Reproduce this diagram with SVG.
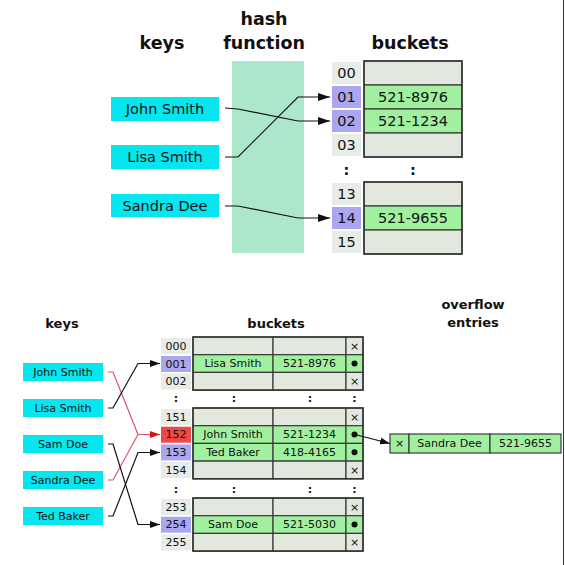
<svg xmlns="http://www.w3.org/2000/svg" width="565" height="565" viewBox="0 0 565 565">
<defs>
<style>
text{font-family:"DejaVu Sans","Liberation Sans",sans-serif;fill:#111;text-anchor:middle;dominant-baseline:central}
.title{font-weight:bold;dominant-baseline:auto}
.t1{font-size:17.5px}
.t2{font-size:13px}
.k1{font-size:14.5px}
.k2{font-size:11px}
.key{fill:#06e6ee}
.idx{fill:#e8ece6}
.hi{fill:#aaa6f0}
.red{fill:#ee4848}
.emp{fill:#e3e8df;stroke:#3a3a3a;stroke-width:1.2}
.ful{fill:#a0f0a0;stroke:#3a3a3a;stroke-width:1.2}
.frame{fill:none;stroke:#333;stroke-width:1.5}
.con{fill:none;stroke:#111;stroke-width:1.2}
.conr{fill:none;stroke:#e0506a;stroke-width:1.2}
.dot{fill:#111}
</style>
<marker id="ab" viewBox="0 0 12 8" refX="12" refY="4" markerWidth="12" markerHeight="8" markerUnits="userSpaceOnUse" orient="auto"><path d="M0,0 L12,4 L0,8 z" fill="#111"/></marker>
<marker id="as" viewBox="0 0 10 7" refX="10" refY="3.5" markerWidth="10" markerHeight="7" markerUnits="userSpaceOnUse" orient="auto"><path d="M0,0 L10,3.5 L0,7 z" fill="#111"/></marker>
<marker id="ar" viewBox="0 0 10 7" refX="10" refY="3.5" markerWidth="10" markerHeight="7" markerUnits="userSpaceOnUse" orient="auto"><path d="M0,0 L10,3.5 L0,7 z" fill="#d01818"/></marker>
</defs>
<rect width="565" height="565" fill="#fff"/>
<line x1="563.5" y1="0" x2="563.5" y2="565" stroke="#333" stroke-width="1"/>

<!-- TOP DIAGRAM -->
<g id="top-titles">
<text class="title t1" x="162" y="49">keys</text>
<text class="title t1" x="264" y="25">hash</text>
<text class="title t1" x="264" y="49">function</text>
<text class="title t1" x="410" y="49">buckets</text>
</g>
<g id="hash-function"><rect x="232" y="61" width="72" height="192" fill="#ace7cb"/></g>
<g id="top-key-john"><rect class="key" x="111" y="97" width="108" height="24"/><text class="k1" x="165" y="109">John Smith</text></g>
<g id="top-key-lisa"><rect class="key" x="111" y="145" width="108" height="24"/><text class="k1" x="165" y="157">Lisa Smith</text></g>
<g id="top-key-sandra"><rect class="key" x="111" y="194" width="108" height="23"/><text class="k1" x="165" y="206">Sandra Dee</text></g>

<g id="top-buckets">
<rect class="idx" x="332" y="62" width="29" height="22"/><text class="k1" x="346.5" y="73">00</text>
<rect class="hi" x="332" y="86" width="29" height="22"/><text class="k1" x="346.5" y="97">01</text>
<rect class="hi" x="332" y="110" width="29" height="22"/><text class="k1" x="346.5" y="121">02</text>
<rect class="idx" x="332" y="134" width="29" height="22"/><text class="k1" x="346.5" y="145">03</text>
<rect class="emp" x="364" y="61" width="98" height="24"/>
<rect class="ful" x="364" y="85" width="98" height="24"/><text class="k1" x="413" y="97">521-8976</text>
<rect class="ful" x="364" y="109" width="98" height="24"/><text class="k1" x="413" y="121">521-1234</text>
<rect class="emp" x="364" y="133" width="98" height="24"/>
<rect class="frame" x="364" y="61" width="98" height="96"/>
<text class="k1" x="346.5" y="170" font-weight="bold">:</text>
<text class="k1" x="413" y="170" font-weight="bold">:</text>
<rect class="idx" x="332" y="183" width="29" height="22"/><text class="k1" x="346.5" y="194">13</text>
<rect class="hi" x="332" y="207" width="29" height="22"/><text class="k1" x="346.5" y="218">14</text>
<rect class="idx" x="332" y="231" width="29" height="22"/><text class="k1" x="346.5" y="242">15</text>
<rect class="emp" x="364" y="182" width="98" height="24"/>
<rect class="ful" x="364" y="206" width="98" height="24"/><text class="k1" x="413" y="218">521-9655</text>
<rect class="emp" x="364" y="230" width="98" height="24"/>
<rect class="frame" x="364" y="182" width="98" height="72"/>
</g>

<!-- BOTTOM DIAGRAM -->
<g id="bottom-titles">
<text class="title t2" x="62" y="328">keys</text>
<text class="title t2" x="276" y="328">buckets</text>
<text class="title t2" x="473" y="309">overflow</text>
<text class="title t2" x="473" y="327">entries</text>
</g>
<g id="bk-john"><rect class="key" x="23" y="363" width="80" height="18"/><text class="k2" x="63" y="372">John Smith</text></g>
<g id="bk-lisa"><rect class="key" x="23" y="399" width="80" height="18"/><text class="k2" x="63" y="408">Lisa Smith</text></g>
<g id="bk-sam"><rect class="key" x="23" y="435" width="80" height="18"/><text class="k2" x="63" y="444">Sam Doe</text></g>
<g id="bk-sandra"><rect class="key" x="23" y="471" width="80" height="18"/><text class="k2" x="63" y="480">Sandra Dee</text></g>
<g id="bk-ted"><rect class="key" x="23" y="507" width="80" height="18"/><text class="k2" x="63" y="516">Ted Baker</text></g>

<g id="bottom-buckets-1">
<rect class="idx" x="161" y="338" width="30" height="16"/><text class="k2" x="176" y="346">000</text>
<rect class="hi" x="161" y="356" width="30" height="16"/><text class="k2" x="176" y="364">001</text>
<rect class="idx" x="161" y="373.5" width="30" height="16"/><text class="k2" x="176" y="381.5">002</text>
<rect class="emp" x="193" y="337" width="80" height="17.7"/><rect class="emp" x="273" y="337" width="73" height="17.7"/><rect class="emp" x="346" y="337" width="17" height="17.7"/><text class="k2" x="354.5" y="346">×</text>
<rect class="ful" x="193" y="354.7" width="80" height="17.7"/><rect class="ful" x="273" y="354.7" width="73" height="17.7"/><rect class="ful" x="346" y="354.7" width="17" height="17.7"/>
<text class="k2" x="233" y="363.5">Lisa Smith</text><text class="k2" x="309.5" y="363.5">521-8976</text><circle class="dot" cx="354.5" cy="363.5" r="3"/>
<rect class="emp" x="193" y="372.4" width="80" height="17.7"/><rect class="emp" x="273" y="372.4" width="73" height="17.7"/><rect class="emp" x="346" y="372.4" width="17" height="17.7"/><text class="k2" x="354.5" y="381.2">×</text>
<rect class="frame" x="193" y="337" width="170" height="53.1"/>
</g>
<g id="bottom-dots-1">
<text class="k2" x="176" y="398" font-weight="bold">:</text><text class="k2" x="234" y="398" font-weight="bold">:</text><text class="k2" x="310" y="398" font-weight="bold">:</text><text class="k2" x="354.5" y="398" font-weight="bold">:</text>
</g>
<g id="bottom-buckets-2">
<rect class="idx" x="161" y="409" width="30" height="16"/><text class="k2" x="176" y="417">151</text>
<rect class="red" x="161" y="426.7" width="30" height="16"/><text class="k2" x="176" y="434.7">152</text>
<rect class="hi" x="161" y="444.4" width="30" height="16"/><text class="k2" x="176" y="452.4">153</text>
<rect class="idx" x="161" y="462.1" width="30" height="16"/><text class="k2" x="176" y="470.1">154</text>
<rect class="emp" x="193" y="408" width="80" height="17.7"/><rect class="emp" x="273" y="408" width="73" height="17.7"/><rect class="emp" x="346" y="408" width="17" height="17.7"/><text class="k2" x="354.5" y="417">×</text>
<rect class="ful" x="193" y="425.7" width="80" height="17.7"/><rect class="ful" x="273" y="425.7" width="73" height="17.7"/><rect class="ful" x="346" y="425.7" width="17" height="17.7"/>
<text class="k2" x="233" y="434.5">John Smith</text><text class="k2" x="309.5" y="434.5">521-1234</text><circle class="dot" cx="354.5" cy="434.5" r="3"/>
<rect class="ful" x="193" y="443.4" width="80" height="17.7"/><rect class="ful" x="273" y="443.4" width="73" height="17.7"/><rect class="ful" x="346" y="443.4" width="17" height="17.7"/>
<text class="k2" x="233" y="452.2">Ted Baker</text><text class="k2" x="309.5" y="452.2">418-4165</text><circle class="dot" cx="354.5" cy="452.2" r="3"/>
<rect class="emp" x="193" y="461.1" width="80" height="17.7"/><rect class="emp" x="273" y="461.1" width="73" height="17.7"/><rect class="emp" x="346" y="461.1" width="17" height="17.7"/><text class="k2" x="354.5" y="470">×</text>
<rect class="frame" x="193" y="408" width="170" height="70.8"/>
</g>
<g id="bottom-dots-2">
<text class="k2" x="176" y="489" font-weight="bold">:</text><text class="k2" x="234" y="489" font-weight="bold">:</text><text class="k2" x="310" y="489" font-weight="bold">:</text><text class="k2" x="354.5" y="489" font-weight="bold">:</text>
</g>
<g id="bottom-buckets-3">
<rect class="idx" x="161" y="499" width="30" height="16"/><text class="k2" x="176" y="507">253</text>
<rect class="hi" x="161" y="516.7" width="30" height="16"/><text class="k2" x="176" y="524.7">254</text>
<rect class="idx" x="161" y="534.4" width="30" height="16"/><text class="k2" x="176" y="542.4">255</text>
<rect class="emp" x="193" y="498" width="80" height="17.7"/><rect class="emp" x="273" y="498" width="73" height="17.7"/><rect class="emp" x="346" y="498" width="17" height="17.7"/><text class="k2" x="354.5" y="507">×</text>
<rect class="ful" x="193" y="515.7" width="80" height="17.7"/><rect class="ful" x="273" y="515.7" width="73" height="17.7"/><rect class="ful" x="346" y="515.7" width="17" height="17.7"/>
<text class="k2" x="233" y="524.5">Sam Doe</text><text class="k2" x="309.5" y="524.5">521-5030</text><circle class="dot" cx="354.5" cy="524.5" r="3"/>
<rect class="emp" x="193" y="533.4" width="80" height="17.7"/><rect class="emp" x="273" y="533.4" width="73" height="17.7"/><rect class="emp" x="346" y="533.4" width="17" height="17.7"/><text class="k2" x="354.5" y="542.2">×</text>
<rect class="frame" x="193" y="498" width="170" height="53.1"/>
</g>
<g id="overflow-entry">
<rect class="ful" x="390" y="434" width="19" height="19"/><rect class="ful" x="409" y="434" width="81" height="19"/><rect class="ful" x="490" y="434" width="71" height="19"/>
<text class="k2" x="399.5" y="443.5">×</text><text class="k2" x="449.5" y="443.5">Sandra Dee</text><text class="k2" x="525.5" y="443.5">521-9655</text>
</g>

<g id="connectors">
<path class="con" marker-end="url(#ab)" d="M225,108 L238,109 L298,121 L330,121"/>
<path class="con" marker-end="url(#ab)" d="M225,157 L238,157 L298,97 L330,97"/>
<path class="con" marker-end="url(#ab)" d="M225,206 L238,206 L298,218 L330,218"/>
<path class="conr" d="M108,372 L113,372 L138,434.5"/>
<path class="conr" marker-end="url(#ar)" d="M108,480 L113,480 L138,434.5 L160,434.5"/>
<path class="con" marker-end="url(#as)" d="M108,408 L113,408 L138,363.5 L160,363.5"/>
<path class="con" marker-end="url(#as)" d="M108,444 L113,444 L138,524.5 L160,524.5"/>
<path class="con" marker-end="url(#as)" d="M108,516 L113,516 L138,452.5 L160,452.5"/>
<path class="con" marker-end="url(#as)" d="M355,434.5 L390,443.5"/>
</g>
</svg>
